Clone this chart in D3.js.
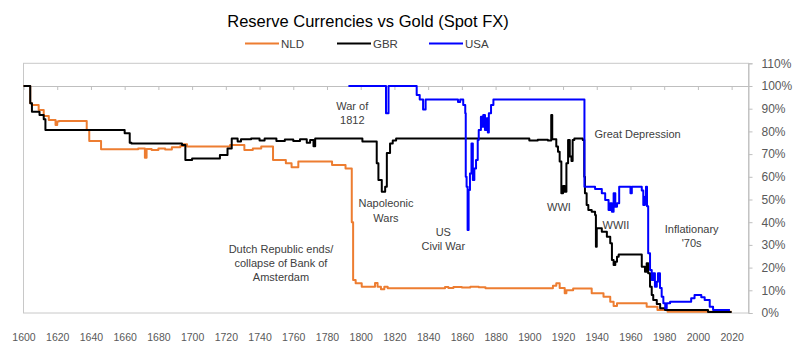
<!DOCTYPE html>
<html>
<head>
<meta charset="utf-8">
<script src="https://cdn.jsdelivr.net/npm/d3@7"></script>
<style>
  body { margin: 0; background: #fff; }
  svg { display: block; font-family: "Liberation Sans", Arial, sans-serif; }
</style>
</head>
<body>
<script>
// values: [year, % of gold value]
var nld = [
  [1600,100],[1604,92.4],[1605,91.6],[1609,89.4],[1612,86.8],[1615,85],[1619,82.8],[1620,84.4],
  [1621,84.6],[1637.5,80.6],[1639,75.8],[1646,72.1],[1668,72.5],[1672,68.4],[1673,72.3],[1676,71.8],
  [1680,72.5],[1684,72],[1688,73],[1693,73.6],[1695,74.3],[1697,73.3],[1722.5,74],[1731,71.8],
  [1736,72.5],[1741,73.3],[1748,67.4],[1755.6,66],[1759,64.2],[1763,66.7],[1783,65.2],[1791,63.7],
  [1794.7,40],[1795.5,14.5],[1797,13.1],[1800.6,11.6],[1808.5,13.2],[1810,11.6],[1812,10.5],
  [1814,11.6],[1816,10.9],[1850,11.4],[1852,11],[1855,11.5],[1860,11.2],[1865,11.6],[1870,11.3],
  [1874,10.9],[1913,10.9],[1914,12],[1916,13.1],[1918,11],[1921,8.7],[1922,10],[1926,10.8],
  [1937,8.7],[1944,7.2],[1948,5],[1950,3.1],[1952,4.3],[1969.6,2.8],[1976,1.3],[1982,0.5],[2020,0.5]
];
var gbr = [
  [1600,100],[1604,92.4],[1605,88.7],[1609.5,87.2],[1612,85.3],[1613,80.6],[1660,79.2],[1663,75],
  [1664,74.7],[1694,74],[1696,67.4],[1700,68.1],[1716.5,69.6],[1721,72.5],[1723.5,76.9],[1727,75.5],
  [1729,76.5],[1735,76.9],[1740,76],[1743,76.9],[1750,75.8],[1755,76.4],[1760,75.8],[1764,76.5],
  [1768,75],[1770,76.2],[1772,73.5],[1773,76.9],[1801,75.5],[1809.5,66],[1810.5,58.6],[1812.5,53.4],
  [1814.5,55.6],[1815.5,70.5],[1817.4,74.7],[1819,76],[1821,76.9],[1900,76],[1905,76.3],[1911,76],
  [1913,87.2],[1913.6,76.5],[1916,73.3],[1917,71],[1918,66.7],[1919,52.7],[1920,56],[1921,53.4],
  [1922,66],[1923,76.2],[1924,68.9],[1925,67],[1925.7,76.2],[1926.7,76.9],[1931.7,76.2],[1932.6,60],
  [1933,52.7],[1934,47.6],[1935,45.4],[1937,44.6],[1939,43.2],[1939.5,29.2],[1940,37.3],[1943,35.8],
  [1946,33.6],[1948,30.7],[1949,23.3],[1950,21.1],[1951,22.6],[1952,24.8],[1953,25.8],[1966.7,20.4],
  [1968.6,18.2],[1969.6,21.9],[1970.5,17.5],[1971.6,11.6],[1972.6,7.9],[1973.5,5.7],[1975.6,4],
  [1977.6,2.1],[1980.5,1.3],[2006,0.4],[2020,0.4]
];
var usa = [
  [1792.7,100],[1815,88],[1816.5,100],[1833.2,96],[1835,94.1],[1837,89.7],[1838.5,94.1],[1857.7,93],
  [1859,94.1],[1860.8,91.6],[1862,88],[1862.3,60],[1862.8,55.6],[1863.4,36.6],[1864,54.2],[1864.8,61.5],
  [1865.7,74.7],[1866.5,58.6],[1867.4,63.7],[1868.4,67.4],[1869.4,76.2],[1870,80.6],[1871.3,86.5],
  [1872,82],[1872.7,87.2],[1873.7,80.6],[1874.7,85.8],[1875.4,79.5],[1876,88],[1877.3,91.6],
  [1878.7,94.1],[1932.7,55.6],[1939,54.6],[1943,52.7],[1945,49.8],[1947,45.4],[1948,48.3],[1949,44.6],
  [1950,52.7],[1951,46.8],[1952,48.3],[1953.3,55.6],[1960,52.7],[1960.8,55.6],[1966.7,54],[1967.6,47.6],
  [1968.6,51.2],[1969.2,55.6],[1969.8,47],[1970.5,26.3],[1971.6,18.9],[1972.6,14.5],[1973.5,17.5],
  [1974.5,11.6],[1975.6,13.8],[1976.3,17.5],[1977.5,11],[1978.5,7.2],[1979.5,4.3],[1980.6,2.1],
  [1981.5,4.3],[1983.5,5],[1996,6.5],[1998,7.9],[2002,6.9],[2004,5.7],[2007,2.8],[2009,1.3],[2019,1.3]
];

var seriesNames = ["NLD", "GBR", "USA"];
var seriesColors = ["#ED7D31", "#000000", "#0000FF"];
var yearTicks = d3.range(1600, 2021, 20);
var pctTicks = d3.range(0, 111, 10);

// anchor = year / % of the first text baseline
var notes = [
  {lines: ["War of", "1812"], year: 1795, pct: 89.6},
  {lines: ["Napoleonic", "Wars"], year: 1815, pct: 46.5},
  {lines: ["US", "Civil War"], year: 1849, pct: 33.9},
  {lines: ["Dutch Republic ends/", "collapse of Bank of", "Amsterdam"], year: 1752.7, pct: 26.5},
  {lines: ["WWI"], year: 1917.6, pct: 44.9},
  {lines: ["WWII"], year: 1951.4, pct: 36.8},
  {lines: ["Great Depression"], year: 1964.2, pct: 77.2},
  {lines: ["Inflationary", "'70s"], year: 1996.3, pct: 35.3}
];

var W = 800, H = 363;
var x = d3.scaleLinear().domain([1600, 2030]).range([23.5, 748.5]);
var y = d3.scaleLinear().domain([0, 110]).range([313, 63.3]);

var svg = d3.select("body").append("svg")
    .attr("width", W)
    .attr("height", H);

// plot area border
svg.append("rect")
    .attr("x", x(1600)).attr("y", y(110))
    .attr("width", x(2030) - x(1600)).attr("height", y(0) - y(110))
    .attr("fill", "none").attr("stroke", "#c8c8c8").attr("stroke-width", 1);

// horizontal axis crosses at 100% (ticks only there)
var topAxis = svg.append("g")
    .attr("transform", "translate(0," + y(100) + ")")
    .call(d3.axisBottom(x).tickValues(yearTicks).tickSizeInner(4).tickSizeOuter(0).tickFormat(""));
topAxis.select(".domain").attr("stroke", "#bfbfbf");
topAxis.selectAll(".tick line").attr("stroke", "#bfbfbf");

// year labels at the bottom
var bottomAxis = svg.append("g")
    .attr("transform", "translate(0," + y(0) + ")")
    .call(d3.axisBottom(x).tickValues(yearTicks).tickSize(0).tickPadding(21).tickFormat(d3.format("d")));
bottomAxis.select(".domain").remove();
bottomAxis.selectAll("text")
    .attr("fill", "#595959").style("font-size", "10.5px")
    .style("font-family", "'Liberation Sans', Arial, sans-serif");

// right value axis
var rightAxis = svg.append("g")
    .attr("transform", "translate(" + x(2030) + ",0)")
    .call(d3.axisRight(y).tickValues(pctTicks).tickSize(4).tickPadding(9).tickFormat(function(d) { return d + "%"; }));
rightAxis.select(".domain").attr("stroke", "#bfbfbf");
rightAxis.selectAll(".tick line").attr("stroke", "#bfbfbf");
rightAxis.selectAll("text")
    .attr("fill", "#595959").style("font-size", "12px")
    .style("font-family", "'Liberation Sans', Arial, sans-serif");

// lines
var line = d3.line()
    .x(function(d) { return x(d[0]); })
    .y(function(d) { return y(d[1]); })
    .curve(d3.curveStepAfter);

[nld, gbr, usa].forEach(function(s, i) {
  svg.append("path")
      .datum(s)
      .attr("d", line)
      .attr("fill", "none")
      .attr("stroke", seriesColors[i])
      .attr("stroke-width", 2)
      .attr("stroke-linejoin", "round");
});

// annotations
notes.forEach(function(n) {
  var t = svg.append("text")
      .attr("text-anchor", "middle")
      .attr("fill", "#404040")
      .style("font-size", "11px");
  n.lines.forEach(function(l, j) {
    t.append("tspan")
        .attr("x", x(n.year))
        .attr("y", y(n.pct) + j * 14.3)
        .text(l);
  });
});

// title
svg.append("text")
    .attr("x", 368).attr("y", 27)
    .attr("text-anchor", "middle")
    .attr("fill", "#000")
    .style("font-size", "16.5px")
    .text("Reserve Currencies vs Gold (Spot FX)");

// legend
var legendX = [245, 337, 429];
var leg = svg.selectAll(".leg").data(seriesNames).enter().append("g").attr("class", "leg")
    .attr("transform", function(d, i) { return "translate(" + legendX[i] + ",43.5)"; });
leg.append("line")
    .attr("x1", 0).attr("x2", 34)
    .attr("stroke", function(d, i) { return seriesColors[i]; })
    .attr("stroke-width", 2);
leg.append("text")
    .attr("x", 36).attr("dy", "0.35em")
    .attr("fill", "#404040")
    .style("font-size", "11.5px")
    .text(function(d) { return d; });
</script>
</body>
</html>
